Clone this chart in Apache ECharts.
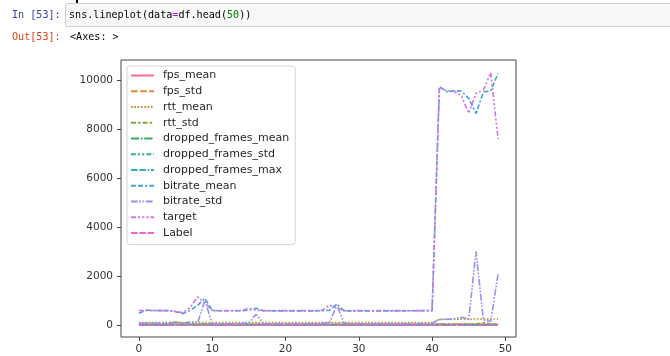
<!DOCTYPE html>
<html><head><meta charset="utf-8">
<script src="https://cdn.jsdelivr.net/npm/echarts@6/dist/echarts.min.js"></script>
<style>
html,body{margin:0;padding:0;background:#fff;width:670px;height:356px;overflow:hidden;}
#chart{position:absolute;left:0;top:0;width:670px;height:356px;}
.nb{position:absolute;font-family:"DejaVu Sans Mono",monospace;font-size:10.1px;line-height:12px;white-space:pre;}
#inp{left:12px;top:9px;color:#303F9F;}
#codebox{position:absolute;left:65px;top:3px;width:620px;height:22px;background:#f7f7f7;border:1px solid #cfcfcf;border-radius:2px;}
#code{left:69px;top:9px;color:#000;}
#outp{left:12px;top:31px;color:#D84315;}
#outv{left:70px;top:31px;color:#000;}
#stub{position:absolute;left:76px;top:0;width:2px;height:3px;background:#000;}
</style></head>
<body>
<div id="chart"></div>
<div id="stub"></div>
<div class="nb" id="inp">In [53]:</div>
<div id="codebox"></div>
<div class="nb" id="code">sns.lineplot(data<span style="color:#AA22FF">=</span>df.head(<span style="color:#008000">50</span>))</div>
<div class="nb" id="outp">Out[53]:</div>
<div class="nb" id="outv">&lt;Axes: &gt;</div>
<script>
// ---- data ----
const names = ['fps_mean','fps_std','rtt_mean','rtt_std','dropped_frames_mean','dropped_frames_std','dropped_frames_max','bitrate_mean','bitrate_std','target','Label'];
const xTicks = [0,10,20,30,40,50];
const yTicks = [0,2000,4000,6000,8000,10000];

const fps_mean = [30,30,29,30,30,30,28,30,29,30, 30,30,30,29,30,30,30,30,30,30, 30,30,29,30,30,30,30,29,30,30, 30,30,30,30,30,30,30,30,30,30, 30,29,30,30,30,29,30,30,30,30];
const fps_std = [3,3,4,3,3,3,5,3,4,3, 3,3,3,4,3,3,3,3,3,3, 3,3,4,3,3,3,3,4,3,3, 3,3,3,3,3,3,3,3,3,3, 3,4,3,3,3,4,3,3,3,3];
const rtt_mean = [100,105,100,100,110,115,100,105,110,100, 100,100,100,100,100,105,100,100,100,100, 100,100,100,100,100,100,105,100,100,100, 100,100,100,100,100,100,100,100,100,100, 100,230,235,240,240,235,245,240,240,245];
const rtt_std = [30,40,35,40,60,120,50,40,30,40, 30,30,30,30,30,35,30,30,30,30, 30,30,30,30,30,30,35,30,30,30, 30,30,30,30,30,30,30,30,30,30, 30,40,40,40,40,40,40,90,40,40];
const dropped_frames_mean = [2,3,2,2,4,10,3,2,5,8, 2,2,2,2,2,3,4,2,2,2, 2,2,2,2,2,2,3,6,2,2, 2,2,2,2,2,2,2,2,2,2, 2,4,3,3,3,4,6,3,3,4];
const dropped_frames_std = [4,5,4,4,6,12,5,4,8,12, 4,4,4,4,4,5,6,4,4,4, 4,4,4,4,4,4,5,9,4,4, 4,4,4,4,4,4,4,4,4,4, 4,6,5,5,5,6,9,5,5,6];
const dropped_frames_max = [10,12,10,10,15,30,12,10,20,30, 10,10,10,10,10,12,15,10,10,10, 10,10,10,10,10,10,12,25,10,10, 10,10,10,10,10,10,10,10,10,10, 10,15,12,12,12,15,25,12,12,15];
const bitrate_mean = [480,610,590,590,585,540,465,600,800,1090, 590,580,580,580,580,610,680,580,575,575, 575,575,575,575,575,580,600,850,580,575, 575,575,575,575,575,575,575,580,580,585, 585,9730,9520,9560,9550,9250,8630,9510,9560,10270];
const bitrate_std = [60,90,70,80,60,100,80,120,100,1000, 60,50,50,50,60,90,440,60,50,50, 50,50,50,50,60,80,90,820,70,50, 50,50,50,50,50,50,50,50,50,60, 60,220,230,250,320,240,3000,200,150,2080];
const target = [590,590,585,585,585,560,500,720,1150,900, 590,585,585,585,590,680,600,585,585,585, 585,585,585,585,585,600,815,700,585,585, 585,585,585,585,585,585,585,585,585,585, 585,9700,9560,9540,9360,8640,9460,9590,10300,7590];
const Label = [0,0,0,0,0,1,0,0,1,1, 0,0,0,0,0,0,1,0,0,0, 0,0,0,0,0,0,1,1,0,0, 0,0,0,0,0,0,0,0,0,0, 0,1,1,1,1,1,1,1,1,1];

const values = [fps_mean,fps_std,rtt_mean,rtt_std,dropped_frames_mean,dropped_frames_std,dropped_frames_max,bitrate_mean,bitrate_std,target,Label];

// ---- styles ----
const colors = ['#f77189','#dc8932','#b59931','#80a731','#33b05d','#35ae8f','#37abb4','#44a1e0','#9391f2','#d275e8','#f565c8'];
const k = 1.66;
const dashSpecs = [null,[4,1.5],[1,1],[3,1.25,1.5,1.25],[5,1,1,1],[3,1.25,1.25,1.25,1.25,1.25],[4,1,4,1,1,1],[3,1.25,3,1.25,1.25,1.25],[4,1,1,1,1,1],[3,1.25,1.25,1.25,1.25,1.25,1.25,1.25],[4,1,4,1,4,1,1,1]];

const series = names.map((n,i)=>({
  name:n, type:'line', symbol:'none', animation:false,
  data: values[i].map((v,j)=>[j,v]),
  lineStyle:{color:colors[i], width:1.6, type: dashSpecs[i] ? dashSpecs[i].map(d=>d*k) : 'solid'},
  itemStyle:{color:colors[i]},
  z: 2+i
}));

const chart = echarts.init(document.getElementById('chart'), null, {renderer:'canvas'});
chart.setOption({
  animation:false,
  backgroundColor:'transparent',
  grid:{left:121, top:60, right:154, bottom:19, show:true, borderColor:'#444', borderWidth:1, backgroundColor:'#fff'},
  xAxis:{type:'value', min:-2.45, max:51.45,
    axisLine:{show:false, onZero:false}, splitLine:{show:false},
    axisTick:{show:true, length:4, lineStyle:{color:'#444'}, customValues:xTicks},
    axisLabel:{customValues:xTicks, fontFamily:'DejaVu Sans', fontSize:10.5, color:'#333', margin:6.5,
      formatter:v=>String(v)}},
  yAxis:{type:'value', min:-490, max:10816,
    axisLine:{show:false, onZero:false}, splitLine:{show:false},
    axisTick:{show:true, length:4, lineStyle:{color:'#444'}, customValues:yTicks},
    axisLabel:{customValues:yTicks, fontFamily:'DejaVu Sans', fontSize:10.5, color:'#333', margin:8,
      formatter:v=>String(v)}},
  legend:{orient:'vertical', left:127, top:66, data:names,
    backgroundColor:'rgba(255,255,255,0.8)', borderColor:'#d5d5d5', borderWidth:1, borderRadius:3,
    padding:[4,6,6,3], itemWidth:23, itemHeight:12, itemGap:4.76,
    itemStyle:{opacity:0, borderWidth:0},
    textStyle:{fontFamily:'DejaVu Sans', fontSize:11, color:'#262626', padding:[0,0,0,4]}},
  series: series
});
</script>
</body></html>
